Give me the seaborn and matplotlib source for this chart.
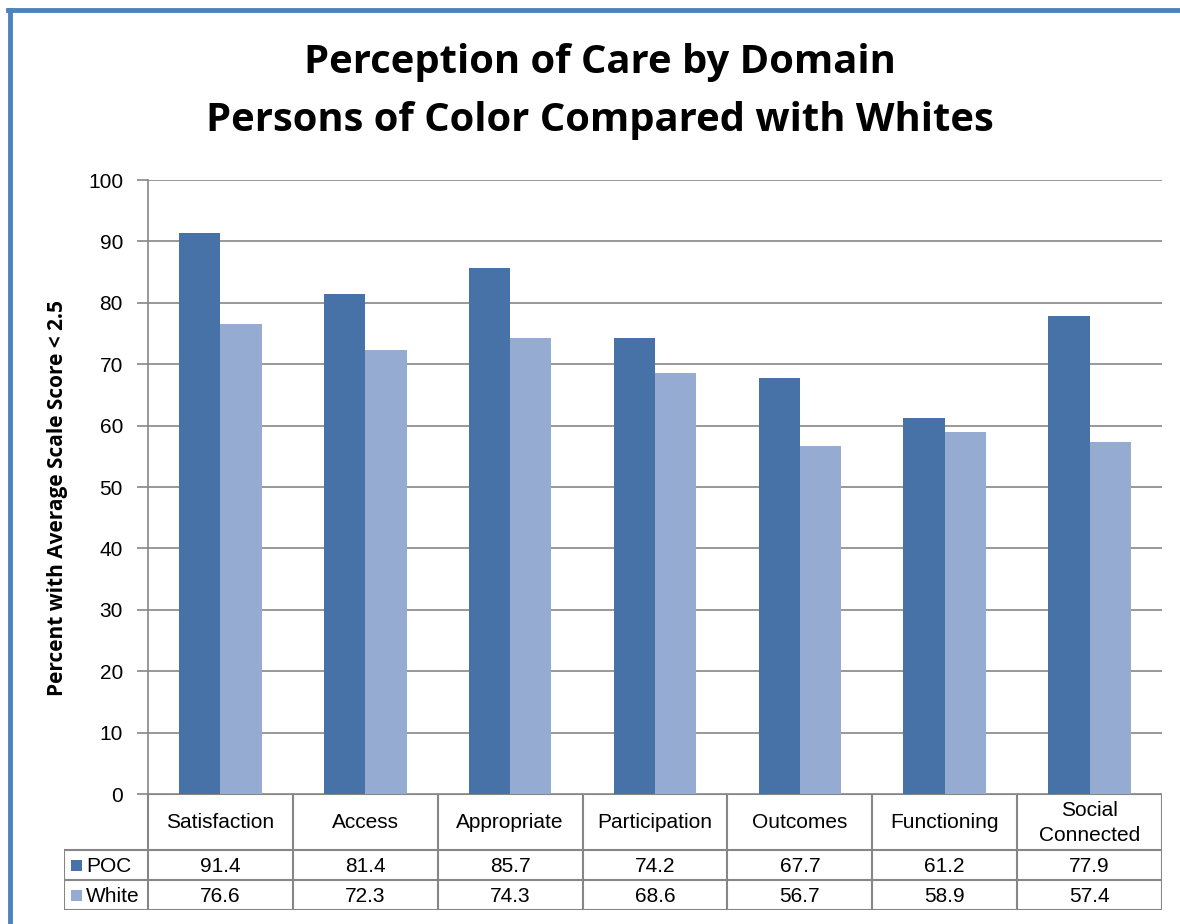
import matplotlib
matplotlib.use("Agg")
import matplotlib.pyplot as plt
from matplotlib.lines import Line2D
import pandas as pd
import seaborn as sns

# chart data
domains = ["Satisfaction", "Access", "Appropriate", "Participation",
           "Outcomes", "Functioning", "Social\nConnected"]
poc = [91.4, 81.4, 85.7, 74.2, 67.7, 61.2, 77.9]
white = [76.6, 72.3, 74.3, 68.6, 56.7, 58.9, 57.4]
groups = ["POC", "White"]
colors = ["#4672A8", "#95ABD2"]
y_ticks = list(range(0, 101, 10))

df = pd.DataFrame({
    "domain": domains * 2,
    "group": ["POC"] * len(domains) + ["White"] * len(domains),
    "value": poc + white,
})

W, H = 1180, 924
fig = plt.figure(figsize=(W / 100, H / 100), dpi=100)

def fx(px):
    return px / W

def fy(py):
    return 1 - py / H

# plot area in pixel coordinates from the reference
left, right, top, bottom = 148, 1162, 180, 794
ax = fig.add_axes([fx(left), fy(bottom), fx(right - left), (bottom - top) / H])

sns.barplot(data=df, x="domain", y="value", hue="group", order=domains,
            hue_order=groups, palette=colors, width=0.57, saturation=1,
            linewidth=0, ax=ax, legend=False)

ax.set_xlim(-0.5, len(domains) - 0.5)
ax.set_ylim(0, 100)
ax.set_yticks(y_ticks)
ax.set_yticklabels([str(t) for t in y_ticks], fontsize=15,
                   fontfamily="Liberation Sans")
ax.tick_params(axis="y", length=8, width=1.2, color="#868686", pad=10)
ax.set_xticks([])
ax.set_xlabel("")
ax.set_ylabel("")
ax.grid(axis="y", color="#868686", linewidth=1.2)
ax.set_axisbelow(True)
for side in ["top", "right", "bottom"]:
    ax.spines[side].set_visible(False)
ax.spines["left"].set_color("#868686")
ax.spines["left"].set_linewidth(1.2)

# data table under the plot
tab_left = 64
row_cat, row_poc, row_white = 850, 880, 910
tab = fig.add_axes([fx(tab_left), fy(row_white), fx(right - tab_left),
                    (row_white - bottom) / H])
tab.set_xlim(tab_left, right)
tab.set_ylim(row_white, bottom)
tab.axis("off")

line_kw = dict(color="#868686", linewidth=1.5)
col_w = (right - left) / len(domains)
tab.plot([left, right], [bottom, bottom], **line_kw)
tab.plot([tab_left, right], [row_cat, row_cat], **line_kw)
tab.plot([tab_left, right], [row_poc, row_poc], **line_kw)
tab.plot([tab_left, right], [row_white, row_white], **line_kw)
tab.plot([tab_left, tab_left], [row_cat, row_white], **line_kw)
for i in range(len(domains) + 1):
    xx = left + i * col_w
    tab.plot([xx, xx], [bottom, row_white], **line_kw)

txt_kw = dict(fontsize=15, fontfamily="Liberation Sans", color="black",
              ha="center", va="center")
for i, name in enumerate(domains):
    cx = left + (i + 0.5) * col_w
    tab.text(cx, (bottom + row_cat) / 2 + 1, name, linespacing=1.4, **txt_kw)
    tab.text(cx, (row_cat + row_poc) / 2 + 1, f"{poc[i]:.1f}", **txt_kw)
    tab.text(cx, (row_poc + row_white) / 2 + 1, f"{white[i]:.1f}", **txt_kw)

for name, col, y0, y1 in [("POC", colors[0], row_cat, row_poc),
                          ("White", colors[1], row_poc, row_white)]:
    ym = (y0 + y1) / 2
    tab.add_patch(plt.Rectangle((71, ym - 5), 11, 11, color=col, linewidth=0))
    tab.text(86, ym + 1, name, fontsize=15, fontfamily="Liberation Sans",
             ha="left", va="center")

# title and axis label
fig.text(fx(600), fy(62), "Perception of Care by Domain", fontsize=28.8,
         fontweight="bold", fontfamily="Open Sans", ha="center", va="center")
fig.text(fx(600), fy(120), "Persons of Color Compared with Whites", fontsize=28.8,
         fontweight="bold", fontfamily="Open Sans", ha="center", va="center")
fig.text(fx(58), fy(498), "Percent with Average Scale Score < 2.5", fontsize=15,
         fontweight="bold", fontfamily="Open Sans", rotation=90,
         ha="center", va="center")

# blue frame on left and top edges
fig.add_artist(Line2D([fx(10), fx(10)], [0, fy(10)], color="#4F81BD",
                      linewidth=3.5, transform=fig.transFigure))
fig.add_artist(Line2D([fx(8), 1], [fy(10), fy(10)], color="#4F81BD",
                      linewidth=3.5, transform=fig.transFigure))

fig.savefig("out.png", dpi=100, facecolor="white")
